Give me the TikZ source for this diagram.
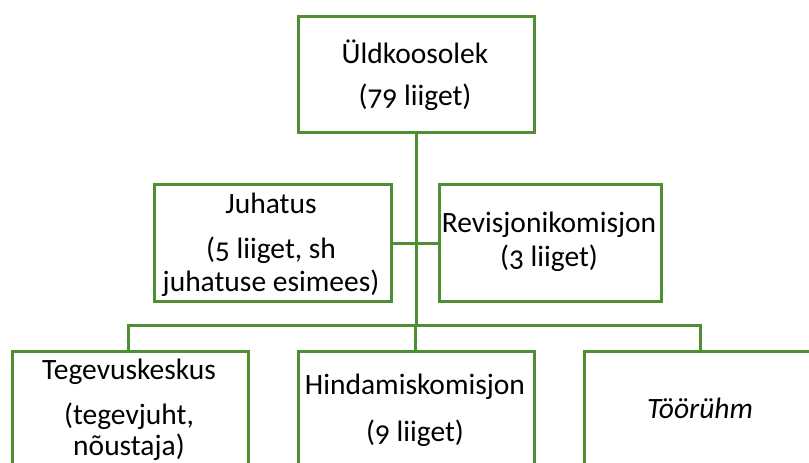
\documentclass[tikz,border=0pt]{standalone}
\usepackage{fontspec}
\setmainfont{Carlito}[Numbers=OldStyle]
\definecolor{boxgreen}{RGB}{80,142,52}
\tikzset{
  orgbox/.style={draw=boxgreen, line width=3pt, fill=white, anchor=north west, inner sep=0pt},
  conn/.style={draw=boxgreen, line width=3pt},
  lbl/.style={font=\fontsize{29.5}{34}\selectfont, inner sep=0pt, anchor=center},
}
\begin{document}
\begin{tikzpicture}[x=1pt,y=-1pt]
\useasboundingbox (0,0) rectangle (809,463);
\clip (0,0) rectangle (809,463);
% boxes
\node[orgbox, minimum width=236pt, minimum height=116pt] (top) at (297,15) {};
\node[orgbox, minimum width=237pt, minimum height=117pt] (juh) at (153,183) {};
\node[orgbox, minimum width=222pt, minimum height=117pt] (rev) at (438,183) {};
\node[orgbox, minimum width=236pt, minimum height=140pt] (teg) at (11,350) {};
\node[orgbox, minimum width=236pt, minimum height=140pt] (hin) at (297,350) {};
\node[orgbox, minimum width=260pt, minimum height=140pt] (too) at (583,350) {};
% connectors
\coordinate (busL) at (128,325);
\coordinate (busR) at (700,325);
\coordinate (busM) at (415,325);
\draw[conn] (top.south) -- (top.south |- busM);
\draw[conn] (juh.east) -- (rev.west);
\draw[conn] (busL |- teg.north) -- (busL) -- (busR) -- (busR |- too.north);
\draw[conn] (busM) -- (busM |- hin.north);
% texts
\node[lbl] (t1) at (415,52) {Üldkoosolek};
\node[lbl] (t2) at (415,97) {(79 liiget)};
\node[lbl] (j1) at (271,203) {Juhatus};
\node[lbl] (j2) at (271,250) {(5 liiget, sh};
\node[lbl] (j3) at (271,283) {juhatuse esimees)};
\node[lbl] (r1) at (549,225) {Revisjonikomisjon};
\node[lbl] (r2) at (549,258) {(3 liiget)};
\node[lbl] (g1) at (129,372) {Tegevuskeskus};
\node[lbl] (g2) at (129,416) {(tegevjuht,};
\node[lbl] (g3) at (129,447) {nõustaja)};
\node[lbl] (h1) at (415,387) {Hindamiskomisjon};
\node[lbl] (h2) at (415,433) {(9 liiget)};
\node[lbl, font=\fontsize{29.5}{34}\selectfont\itshape] (w1) at (700,408) {Töörühm};
\end{tikzpicture}
\end{document}
